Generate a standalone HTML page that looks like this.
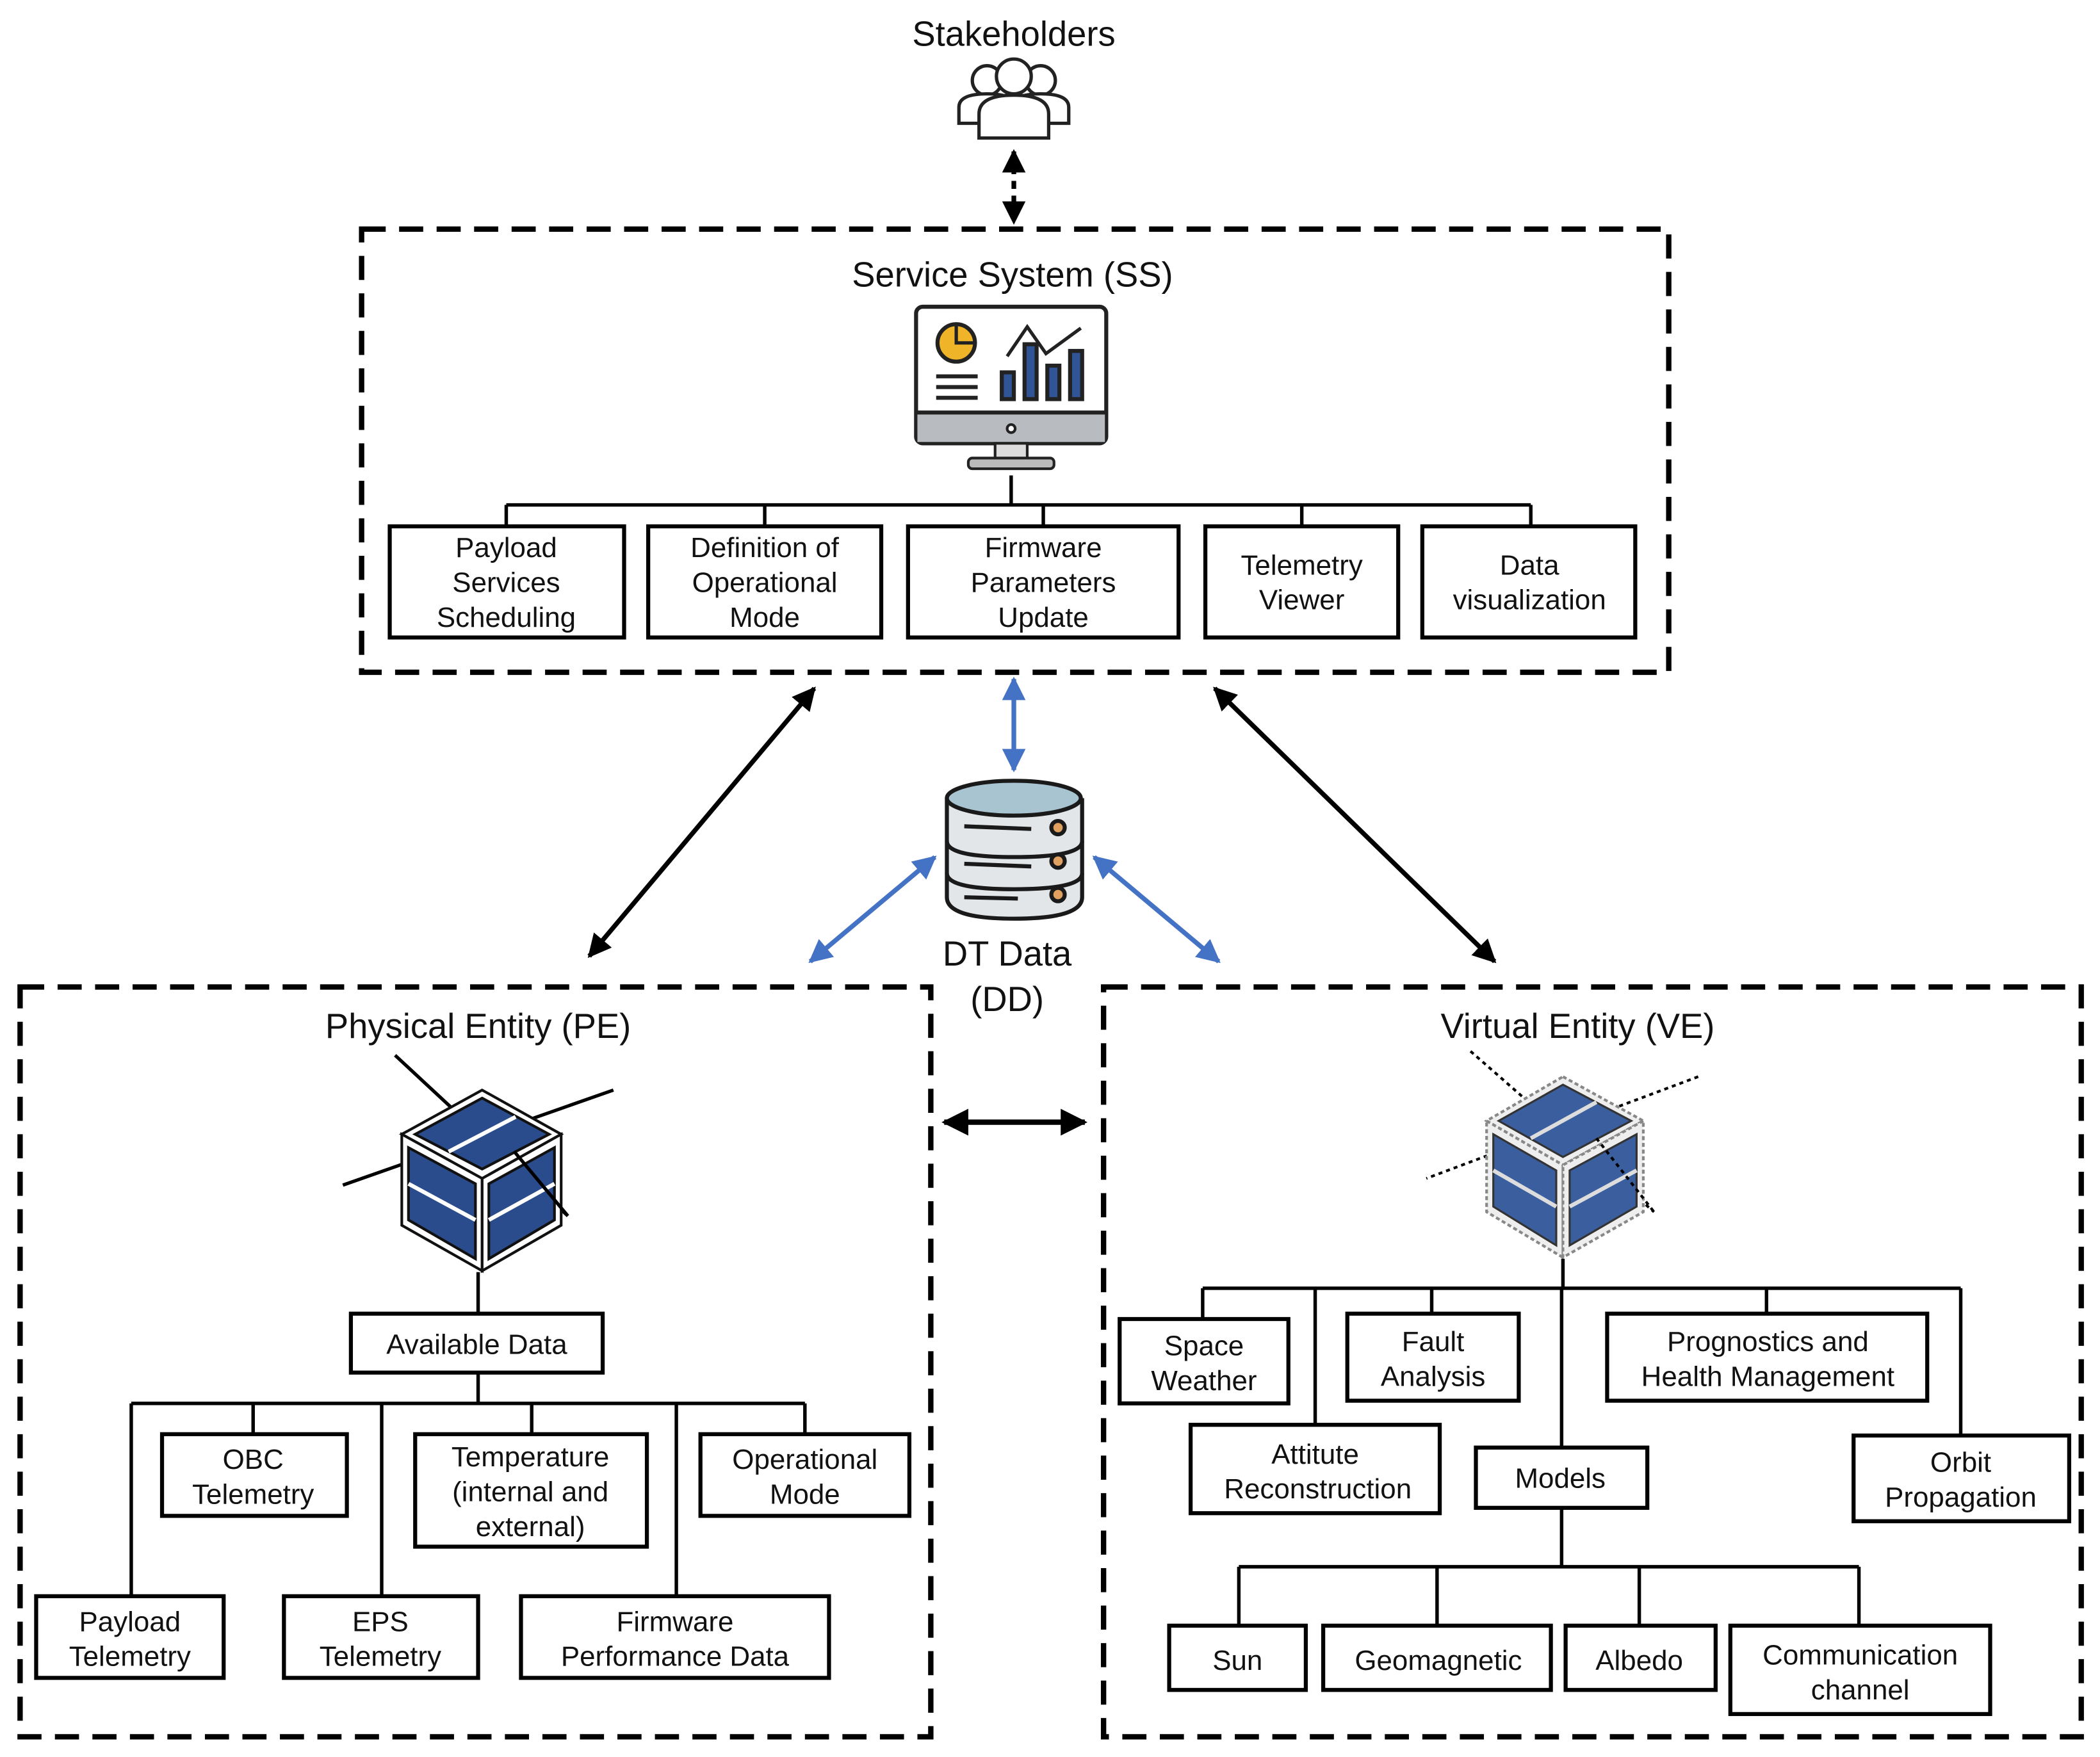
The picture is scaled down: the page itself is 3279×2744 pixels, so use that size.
<!DOCTYPE html>
<html><head><meta charset="utf-8"><style>
html,body{margin:0;padding:0;background:#fff;}
svg{display:block;}
text{font-family:"Liberation Sans",Arial,sans-serif;fill:#111;text-anchor:middle;}
.b{fill:#fff;stroke:#000;stroke-width:3;}
.c{stroke:#000;stroke-width:2.6;fill:none;}
.d{fill:none;stroke:#000;stroke-width:4;stroke-dasharray:18 10;}
.t{font-size:21px;}
.T{font-size:26px;}
</style></head><body>
<svg width="3279" height="2744" viewBox="0 0 1568 1312" xmlns="http://www.w3.org/2000/svg">
<defs>
<marker id="ak" viewBox="0 0 10 10" refX="9" refY="5" markerWidth="5" markerHeight="5" orient="auto-start-reverse"><path d="M0,0L10,5L0,10z" fill="#000"/></marker>
<marker id="ab" viewBox="0 0 10 10" refX="9" refY="5" markerWidth="5" markerHeight="5" orient="auto-start-reverse"><path d="M0,0L10,5L0,10z" fill="#4472C4"/></marker>
</defs>
<rect width="1568" height="1312" fill="#fff"/>

<!-- Stakeholders -->
<text x="757" y="34" class="T">Stakeholders</text>
<g fill="#fff" stroke="#222" stroke-width="2.5">
<circle cx="737" cy="60" r="11"/><path d="M716,92 v-12 q0,-10 21,-10 q21,0 21,10 v12z"/>
<circle cx="777" cy="60" r="11"/><path d="M756,92 v-12 q0,-10 21,-10 q21,0 21,10 v12z"/>
<circle cx="757" cy="57" r="13"/><path d="M731,103 v-18 q0,-14 26,-14 q26,0 26,14 v18z"/>
</g>
<line x1="757" y1="113" x2="757" y2="166" stroke="#000" stroke-width="3.5" stroke-dasharray="6 5" marker-start="url(#ak)" marker-end="url(#ak)"/>

<!-- SS -->
<rect x="270" y="171" width="976" height="331" class="d"/>
<text x="756" y="214" class="T">Service System (SS)</text>
<g stroke="#222" stroke-width="3">
<rect x="684" y="229" width="142" height="102" rx="5" fill="#fff"/>
<rect x="685" y="308" width="140" height="22" fill="#b8bcc0" stroke="none"/>
<line x1="684" y1="308" x2="826" y2="308"/>
<circle cx="755" cy="320" r="3" fill="#fff" stroke-width="2"/>
<rect x="743" y="331" width="24" height="12" fill="#ddd" stroke-width="2"/>
<rect x="723" y="342" width="64" height="8" rx="3" fill="#bbb" stroke-width="2"/>
<circle cx="714" cy="256" r="14" fill="#F0B429"/>
<path d="M714,242 v14 h14" fill="none" stroke-width="2.5"/>
<line x1="699" y1="281" x2="730" y2="281"/><line x1="699" y1="289" x2="730" y2="289"/><line x1="699" y1="297" x2="730" y2="297"/>
<path d="M752,266 l15,-22 l14,20 l26,-19" fill="none" stroke-width="2.5"/>
<rect x="748" y="278" width="9" height="20" fill="#2F5597"/>
<rect x="765" y="257" width="9" height="41" fill="#2F5597"/>
<rect x="782" y="273" width="9" height="25" fill="#2F5597"/>
<rect x="799" y="262" width="9" height="36" fill="#2F5597"/>
</g>
<path d="M755,355V377M378,377H1143M378,377V393M571,377V393M779,377V393M972,377V393M1143,377V393" class="c"/>
<rect x="291" y="393" width="175" height="83" class="b"/>
<text x="378" y="416" class="t">Payload</text><text x="378" y="442" class="t">Services</text><text x="378" y="468" class="t">Scheduling</text>
<rect x="484" y="393" width="174" height="83" class="b"/>
<text x="571" y="416" class="t">Definition of</text><text x="571" y="442" class="t">Operational</text><text x="571" y="468" class="t">Mode</text>
<rect x="678" y="393" width="202" height="83" class="b"/>
<text x="779" y="416" class="t">Firmware</text><text x="779" y="442" class="t">Parameters</text><text x="779" y="468" class="t">Update</text>
<rect x="900" y="393" width="144" height="83" class="b"/>
<text x="972" y="429" class="t">Telemetry</text><text x="972" y="455" class="t">Viewer</text>
<rect x="1062" y="393" width="159" height="83" class="b"/>
<text x="1142" y="429" class="t">Data</text><text x="1142" y="455" class="t">visualization</text>

<!-- arrows -->
<line x1="608" y1="514" x2="440" y2="714" stroke="#000" stroke-width="3.5" marker-start="url(#ak)" marker-end="url(#ak)"/>
<line x1="907" y1="514" x2="1116" y2="718" stroke="#000" stroke-width="3.5" marker-start="url(#ak)" marker-end="url(#ak)"/>
<line x1="757" y1="507" x2="757" y2="575" stroke="#4472C4" stroke-width="3.5" marker-start="url(#ab)" marker-end="url(#ab)"/>
<line x1="698" y1="640" x2="605" y2="718" stroke="#4472C4" stroke-width="3.5" marker-start="url(#ab)" marker-end="url(#ab)"/>
<line x1="817" y1="640" x2="910" y2="718" stroke="#4472C4" stroke-width="3.5" marker-start="url(#ab)" marker-end="url(#ab)"/>
<line x1="705" y1="838" x2="810" y2="838" stroke="#000" stroke-width="4" marker-start="url(#ak)" marker-end="url(#ak)"/>

<!-- DB -->
<g stroke="#1a1a1a" stroke-width="3">
<path d="M707,596 V670 Q707,686 757,686 Q808,686 808,670 V596" fill="#e3e6e9"/>
<ellipse cx="757" cy="596" rx="50" ry="13" fill="#a9c4d1"/>
<path d="M707,628 Q707,640 757,640 Q808,640 808,628" fill="none"/>
<path d="M707,652 Q707,664 757,664 Q808,664 808,652" fill="none"/>
<line x1="720" y1="617" x2="770" y2="619"/><line x1="720" y1="645" x2="770" y2="647"/><line x1="720" y1="670" x2="760" y2="671"/>
<circle cx="790" cy="618" r="5" fill="#e0a060"/><circle cx="790" cy="643" r="5" fill="#e0a060"/><circle cx="790" cy="668" r="5" fill="#e0a060"/>
</g>
<text x="752" y="721" class="T">DT Data</text>
<text x="752" y="755" class="T">(DD)</text>

<!-- PE -->
<rect x="15" y="737" width="680" height="560" class="d"/>
<text x="357" y="775" class="T">Physical Entity (PE)</text>
<line x1="295" y1="788" x2="424" y2="908" stroke="#000" stroke-width="2.5"/>
<line x1="458" y1="814" x2="256" y2="885" stroke="#000" stroke-width="2.5"/>
<g stroke="#111" stroke-width="2">
<polygon points="360,814 419,847 360,880 300,847" fill="#fff"/>
<polygon points="300,847 360,880 360,949 300,915" fill="#fff"/>
<polygon points="419,847 360,880 360,949 419,915" fill="#fff"/>
<polygon points="360,820 410,847 360,873 310,847" fill="#2B4C8C"/>
<polygon points="305,857 355,884 355,940 305,911" fill="#2B4C8C"/>
<polygon points="414,857 365,884 365,940 414,911" fill="#2B4C8C"/>
</g>
<g stroke="#fff" stroke-width="3"><line x1="335" y1="860" x2="385" y2="834"/><line x1="305" y1="884" x2="355" y2="911"/><line x1="365" y1="911" x2="414" y2="884"/></g>
<line x1="384" y1="860" x2="424" y2="908" stroke="#000" stroke-width="2.5"/>
<path d="M357,950V981M357,1025V1048M98,1048H601M98,1048V1192M189,1048V1071M285,1048V1192M397,1048V1071M505,1048V1192M601,1048V1071" class="c"/>
<rect x="262" y="981" width="188" height="44" class="b"/><text x="356" y="1011" class="t">Available Data</text>
<rect x="121" y="1071" width="138" height="61" class="b"/><text x="189" y="1097" class="t">OBC</text><text x="189" y="1123" class="t">Telemetry</text>
<rect x="310" y="1071" width="173" height="84" class="b"/><text x="396" y="1095" class="t">Temperature</text><text x="396" y="1121" class="t">(internal and</text><text x="396" y="1147" class="t">external)</text>
<rect x="523" y="1071" width="156" height="61" class="b"/><text x="601" y="1097" class="t">Operational</text><text x="601" y="1123" class="t">Mode</text>
<rect x="27" y="1192" width="140" height="61" class="b"/><text x="97" y="1218" class="t">Payload</text><text x="97" y="1244" class="t">Telemetry</text>
<rect x="212" y="1192" width="145" height="61" class="b"/><text x="284" y="1218" class="t">EPS</text><text x="284" y="1244" class="t">Telemetry</text>
<rect x="389" y="1192" width="230" height="61" class="b"/><text x="504" y="1218" class="t">Firmware</text><text x="504" y="1244" class="t">Performance Data</text>

<!-- VE -->
<rect x="824" y="737" width="730" height="560" class="d"/>
<text x="1178" y="775" class="T">Virtual Entity (VE)</text>
<line x1="1098" y1="785" x2="1235" y2="905" stroke="#000" stroke-width="2" stroke-dasharray="3 3"/>
<line x1="1268" y1="804" x2="1065" y2="880" stroke="#000" stroke-width="2" stroke-dasharray="3 3"/>
<g stroke="#888" stroke-width="2" stroke-dasharray="3 2">
<polygon points="1167,804 1227,837 1167,870 1110,837" fill="#eee"/>
<polygon points="1110,837 1167,870 1167,939 1110,905" fill="#eee"/>
<polygon points="1227,837 1167,870 1167,939 1227,905" fill="#eee"/>
</g>
<g stroke="#333" stroke-width="1.5">
<polygon points="1167,810 1218,837 1167,864 1119,837" fill="#3A5E9E"/>
<polygon points="1115,847 1162,874 1162,930 1115,901" fill="#3A5E9E"/>
<polygon points="1222,847 1172,874 1172,930 1222,901" fill="#3A5E9E"/>
</g>
<g stroke="#ddd" stroke-width="3"><line x1="1143" y1="850" x2="1192" y2="823"/><line x1="1115" y1="874" x2="1162" y2="901"/><line x1="1172" y1="901" x2="1222" y2="874"/></g>
<line x1="1192" y1="850" x2="1235" y2="905" stroke="#000" stroke-width="2" stroke-dasharray="3 3"/>
<path d="M1167,940V962M898,962H1464M898,962V985M982,962V1064M1069,962V981M1166,962V1081M1319,962V981M1464,962V1072M1166,1126V1170M925,1170H1388M925,1170V1214M1073,1170V1214M1224,1170V1214M1388,1170V1214" class="c"/>
<rect x="836" y="985" width="126" height="63" class="b"/><text x="899" y="1012" class="t">Space</text><text x="899" y="1038" class="t">Weather</text>
<rect x="1006" y="981" width="128" height="65" class="b"/><text x="1070" y="1009" class="t">Fault</text><text x="1070" y="1035" class="t">Analysis</text>
<rect x="1200" y="981" width="239" height="65" class="b"/><text x="1320" y="1009" class="t">Prognostics and</text><text x="1320" y="1035" class="t">Health Management</text>
<rect x="889" y="1064" width="186" height="66" class="b"/><text x="982" y="1093" class="t">Attitute</text><text x="984" y="1119" class="t">Reconstruction</text>
<rect x="1102" y="1081" width="128" height="45" class="b"/><text x="1165" y="1111" class="t">Models</text>
<rect x="1384" y="1072" width="161" height="64" class="b"/><text x="1464" y="1099" class="t">Orbit</text><text x="1464" y="1125" class="t">Propagation</text>
<rect x="873" y="1214" width="102" height="48" class="b"/><text x="924" y="1247" class="t">Sun</text>
<rect x="988" y="1214" width="170" height="48" class="b"/><text x="1074" y="1247" class="t">Geomagnetic</text>
<rect x="1169" y="1214" width="112" height="48" class="b"/><text x="1224" y="1247" class="t">Albedo</text>
<rect x="1292" y="1214" width="194" height="66" class="b"/><text x="1389" y="1243" class="t">Communication</text><text x="1389" y="1269" class="t">channel</text>
</svg>
</body></html>
